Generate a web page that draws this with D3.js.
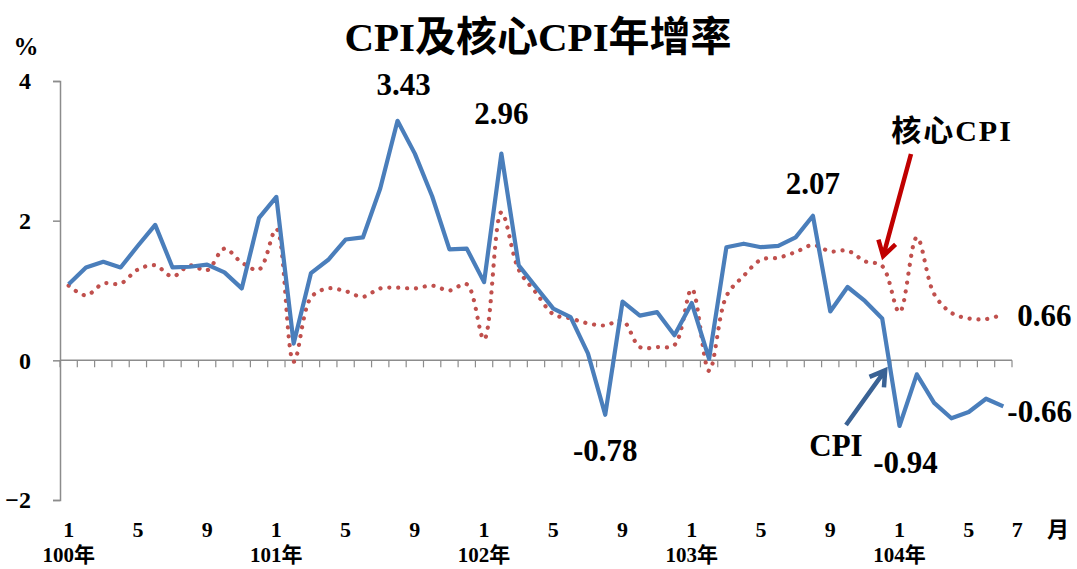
<!DOCTYPE html>
<html>
<head>
<meta charset="utf-8">
<script src="https://cdn.jsdelivr.net/npm/d3@7/dist/d3.min.js"></script>
<style>
  body { margin: 0; background: #fff; }
  text { font-family: "Liberation Serif", "Noto Sans CJK TC", serif; font-weight: bold; fill: #000; }
</style>
</head>
<body>
<script>
  'use strict';

  // months 100年1月 .. 104年7月
  var years = ['100年', '101年', '102年', '103年', '104年'];
  var months = d3.range(55);
  var tickMonths = [1, 5, 9];
  var yTicks = [4, 2, 0, -2];

  var cpi = [
    1.09, 1.33, 1.41, 1.33, 1.64, 1.94, 1.33, 1.34, 1.37, 1.26, 1.03, 2.04,
    2.34, 0.24, 1.25, 1.44, 1.73, 1.76, 2.46, 3.43, 2.96, 2.35, 1.59, 1.60,
    1.12, 2.96, 1.36, 1.05, 0.74, 0.62, 0.10, -0.78, 0.84, 0.64, 0.69, 0.36,
    0.82, 0.02, 1.62, 1.67, 1.62, 1.64, 1.76, 2.07, 0.70, 1.05, 0.85, 0.60,
    -0.94, -0.20, -0.61, -0.83, -0.74, -0.55, -0.66
  ];
  var core = [
    1.07, 0.93, 1.10, 1.10, 1.30, 1.36, 1.20, 1.36, 1.29, 1.60, 1.40, 1.30,
    1.88, -0.02, 0.90, 1.03, 0.99, 0.91, 1.03, 1.04, 1.03, 1.07, 1.00, 1.09,
    0.30, 2.12, 1.30, 0.97, 0.66, 0.60, 0.53, 0.50, 0.57, 0.19, 0.19, 0.22,
    1.02, -0.15, 0.92, 1.21, 1.44, 1.47, 1.55, 1.65, 1.56, 1.57, 1.42, 1.35,
    0.69, 1.76, 0.95, 0.68, 0.60, 0.59, 0.66
  ];
  // [month index, text, dx, dy, anchor]
  var cpiNotes = [
    [19, '3.43', 6, -26, 'middle'],
    [25, '2.96', 0, -30, 'middle'],
    [31, '-0.78', 0, 46, 'middle'],
    [43, '2.07', 0, -22, 'middle'],
    [48, '-0.94', 6, 47, 'middle'],
    [54, '-0.66', 4, 16, 'start']
  ];
  var coreNotes = [
    [54, '0.66', 14, 12, 'start']
  ];

  var width = 1077;
  var height = 569;

  var x = d3.scaleBand().domain(months).range([60, 1012]);
  var y = d3.scaleLinear().domain([-2, 4]).range([500, 81]);
  var cx = function (i) { return x(i) + x.bandwidth() / 2; };

  var svg = d3.select('body')
    .append('svg')
    .attr('width', width)
    .attr('height', height);

  svg.append('text')
    .attr('x', 538)
    .attr('y', 51)
    .attr('text-anchor', 'middle')
    .style('font-size', '41px')
    .text('CPI及核心CPI年增率');

  svg.append('text')
    .attr('x', 26)
    .attr('y', 55)
    .attr('text-anchor', 'middle')
    .style('font-size', '25px')
    .text('%');

  // y axis
  var yAxis = svg.append('g')
    .attr('transform', 'translate(60,0)')
    .call(d3.axisLeft(y).tickValues(yTicks).tickSize(7).tickPadding(22).tickFormat(d3.format('d')));
  yAxis.select('.domain').attr('stroke', '#8c8c8c').attr('stroke-width', 1.5);
  yAxis.selectAll('.tick line').attr('stroke', '#8c8c8c').attr('stroke-width', 1.5);
  yAxis.selectAll('.tick text')
    .style('font-size', '24px')
    .style('font-family', '"Liberation Serif", serif')
    .attr('fill', '#000');

  // x axis along zero line, ticks at month boundaries
  var xAxisG = svg.append('g');
  xAxisG.append('line')
    .attr('x1', 60).attr('x2', 1012)
    .attr('y1', y(0)).attr('y2', y(0))
    .attr('stroke', '#8c8c8c').attr('stroke-width', 1.5);
  xAxisG.selectAll('line.tk')
    .data(d3.range(56))
    .enter()
    .append('line')
    .attr('class', 'tk')
    .attr('x1', function (i) { return 60 + i * x.bandwidth(); })
    .attr('x2', function (i) { return 60 + i * x.bandwidth(); })
    .attr('y1', y(0))
    .attr('y2', y(0) + 7)
    .attr('stroke', '#8c8c8c').attr('stroke-width', 1.2);

  // month labels
  var labelled = months.filter(function (i) {
    return tickMonths.indexOf(i % 12 + 1) >= 0 || i === 54;
  });
  svg.selectAll('text.mon')
    .data(labelled)
    .enter()
    .append('text')
    .attr('class', 'mon')
    .attr('x', function (i) { return cx(i) + (i === 54 ? 14 : 0); })
    .attr('y', 537)
    .attr('text-anchor', 'middle')
    .style('font-size', '22px')
    .text(function (i) { return i % 12 + 1; });

  svg.append('text')
    .attr('x', 1058)
    .attr('y', 537)
    .attr('text-anchor', 'middle')
    .style('font-size', '22px')
    .text('月');

  svg.selectAll('text.yr')
    .data(years)
    .enter()
    .append('text')
    .attr('class', 'yr')
    .attr('x', function (d, k) { return cx(k * 12); })
    .attr('y', 562)
    .attr('text-anchor', 'middle')
    .style('font-size', '21px')
    .text(function (d) { return d; });

  // series
  var coreLine = d3.line()
    .x(function (d, i) { return cx(i); })
    .y(function (d) { return y(d); })
    .curve(d3.curveCatmullRom.alpha(0.5));

  var cpiLine = d3.line()
    .x(function (d, i) { return cx(i); })
    .y(function (d) { return y(d); });

  svg.append('path')
    .datum(core)
    .attr('d', coreLine)
    .attr('fill', 'none')
    .attr('stroke', '#c0504d')
    .attr('stroke-width', 4.2)
    .attr('stroke-linecap', 'round')
    .attr('stroke-dasharray', '0.1 8.8');

  svg.append('path')
    .datum(cpi)
    .attr('d', cpiLine)
    .attr('fill', 'none')
    .attr('stroke', '#4a7ebb')
    .attr('stroke-width', 4.2)
    .attr('stroke-linejoin', 'round');

  // value notes
  function notes(list, series) {
    list.forEach(function (n) {
      svg.append('text')
        .attr('x', cx(n[0]) + n[2])
        .attr('y', y(series[n[0]]) + n[3])
        .attr('text-anchor', n[4])
        .style('font-size', '31px')
        .text(n[1]);
    });
  }
  notes(cpiNotes, cpi);
  notes(coreNotes, core);

  // series callouts with arrows
  function arrow(x1, y1, x2, y2, color) {
    var a = Math.atan2(y2 - y1, x2 - x1);
    var h = 17, s = 0.55;
    var p = 'M' + x1 + ',' + y1 + 'L' + x2 + ',' + y2 +
      'M' + (x2 - h * Math.cos(a - s)) + ',' + (y2 - h * Math.sin(a - s)) +
      'L' + x2 + ',' + y2 +
      'L' + (x2 - h * Math.cos(a + s)) + ',' + (y2 - h * Math.sin(a + s));
    svg.append('path')
      .attr('d', p)
      .attr('fill', 'none')
      .attr('stroke', color)
      .attr('stroke-width', 4.5)
      .attr('stroke-linecap', 'butt')
      .attr('stroke-linejoin', 'miter');
  }

  svg.append('text')
    .attr('x', 952)
    .attr('y', 141)
    .attr('text-anchor', 'middle')
    .style('font-size', '30px')
    .style('letter-spacing', '2px')
    .text('核心CPI');
  arrow(911, 154, cx(47) + 1, y(core[47]) - 10, '#c00000');

  svg.append('text')
    .attr('x', 836)
    .attr('y', 456)
    .attr('text-anchor', 'middle')
    .style('font-size', '31px')
    .text('CPI');
  arrow(846, 425, cx(47) + 3, y(0) + 10, '#3a6294');
</script>
</body>
</html>
